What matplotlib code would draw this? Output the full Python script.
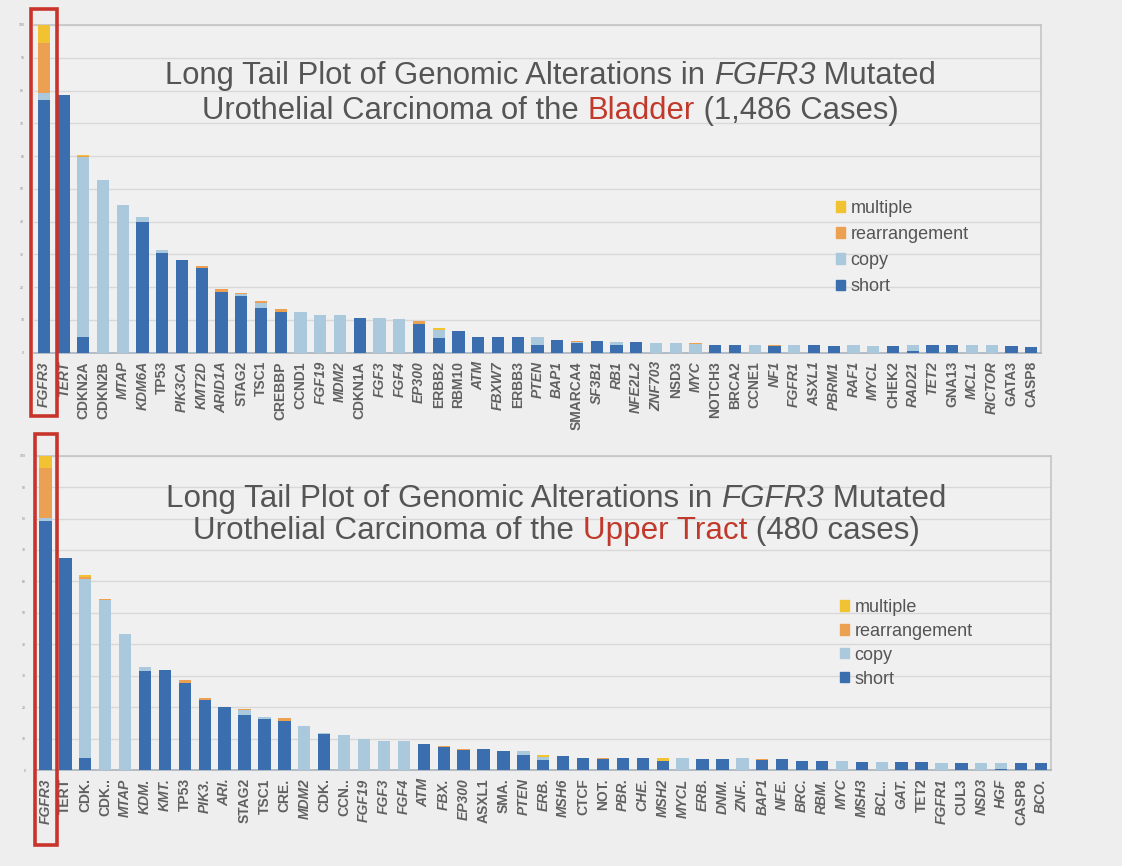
import numpy as np
import matplotlib
matplotlib.use("Agg")
import matplotlib.pyplot as plt
import matplotlib.transforms as mtransforms
from matplotlib.patches import Patch, Rectangle

plt.rcParams['font.family'] = ['Liberation Sans', 'DejaVu Sans']

# Dane - wykres gorny (pecherz moczowy)
genes_b = ["FGFR3", "TERT", "CDKN2A", "CDKN2B", "MTAP", "KDM6A", "TP53", "PIK3CA",
           "KMT2D", "ARID1A", "STAG2", "TSC1", "CREBBP", "CCND1", "FGF19", "MDM2",
           "CDKN1A", "FGF3", "FGF4", "EP300", "ERBB2", "RBM10", "ATM", "FBXW7",
           "ERBB3", "PTEN", "BAP1", "SMARCA4", "SF3B1", "RB1", "NFE2L2", "ZNF703",
           "NSD3", "MYC", "NOTCH3", "BRCA2", "CCNE1", "NF1", "FGFR1", "ASXL1",
           "PBRM1", "RAF1", "MYCL", "CHEK2", "RAD21", "TET2", "GNA13", "MCL1",
           "RICTOR", "GATA3", "CASP8"]
short_b = [77.0, 78.6, 4.8, 0, 0, 39.8, 30.3, 28.4, 25.7, 18.6, 17.3, 13.7, 12.5,
           0, 0, 0, 10.7, 0, 0, 8.9, 4.5, 6.6, 4.8, 4.9, 4.7, 2.4, 4.0, 3.0, 3.5,
           2.4, 3.2, 0, 0, 0, 2.2, 2.2, 0, 2.0, 0, 2.2, 2.1, 0, 0, 2.0, 0.4, 2.2,
           2.2, 0, 0, 2.0, 1.8]
copy_b = [2.2, 0, 54.9, 52.8, 45.0, 1.6, 1.0, 0, 0, 0, 0.6, 1.5, 0, 12.3, 11.4,
          11.4, 0, 10.5, 10.2, 0, 2.4, 0, 0, 0, 0, 2.5, 0, 0.3, 0, 1.0, 0, 3.1,
          3.0, 2.7, 0, 0, 2.2, 0, 2.4, 0, 0, 2.2, 2.1, 0, 1.8, 0, 0, 2.2, 2.2, 0, 0]
rearr_b = [15.2, 0, 0.3, 0, 0, 0, 0, 0, 0.7, 0.9, 0.4, 0.6, 0.8, 0, 0, 0, 0, 0,
           0, 0.9, 0, 0, 0, 0, 0, 0, 0, 0.3, 0, 0, 0, 0, 0, 0.3, 0, 0, 0, 0.2, 0,
           0, 0, 0, 0, 0, 0, 0, 0, 0, 0, 0, 0]
mult_b = [5.6, 0, 0.4, 0, 0, 0, 0, 0, 0, 0, 0, 0, 0, 0, 0, 0, 0, 0, 0, 0, 0.6,
          0, 0, 0, 0, 0, 0, 0, 0, 0, 0, 0, 0, 0, 0, 0, 0, 0, 0, 0, 0, 0, 0, 0,
          0, 0, 0, 0, 0, 0, 0]

# Dane - wykres dolny (gorne drogi moczowe)
genes_u = ["FGFR3", "TERT", "CDK.", "CDK..", "MTAP", "KDM.", "KMT.", "TP53",
           "PIK3.", "ARI.", "STAG2", "TSC1", "CRE.", "MDM2", "CDK.", "CCN..",
           "FGF19", "FGF3", "FGF4", "ATM", "FBX.", "EP300", "ASXL1", "SMA.",
           "PTEN", "ERB.", "MSH6", "CTCF", "NOT.", "PBR.", "CHE.", "MSH2", "MYCL",
           "ERB.", "DNM.", "ZNF..", "BAP1", "NFE.", "BRC.", "RBM.", "MYC", "MSH3",
           "BCL..", "GAT.", "TET2", "FGFR1", "CUL3", "NSD3", "HGF", "CASP8", "BCO."]
short_u = [79.2, 67.5, 3.9, 0, 0, 31.5, 31.7, 27.8, 22.3, 20.0, 17.6, 16.1, 15.7,
           0, 11.6, 0, 0, 0, 0, 8.3, 7.3, 6.5, 6.7, 6.0, 4.8, 3.2, 4.6, 3.9, 3.4,
           3.7, 3.7, 3.0, 0, 3.5, 3.5, 0, 3.2, 3.4, 2.9, 3.0, 0, 2.4, 0, 2.4, 2.4,
           0, 2.3, 0, 0.3, 2.2, 2.1]
copy_u = [0.9, 0, 56.8, 54.1, 43.3, 1.3, 0, 0, 0, 0, 1.4, 0.9, 0, 14.1, 0.2,
          11.0, 9.9, 9.2, 9.2, 0, 0, 0, 0, 0, 1.1, 0.9, 0, 0, 0, 0, 0, 0, 3.7, 0,
          0, 3.7, 0, 0, 0, 0, 2.9, 0, 2.5, 0, 0, 2.3, 0, 2.3, 2.0, 0, 0]
rearr_u = [15.9, 0, 0.6, 0.2, 0, 0, 0, 0.8, 0.6, 0, 0.4, 0, 0.9, 0, 0, 0, 0, 0,
           0, 0, 0.3, 0.3, 0, 0, 0, 0, 0, 0, 0.4, 0, 0, 0, 0, 0, 0, 0, 0.3, 0, 0,
           0, 0, 0, 0, 0, 0, 0, 0, 0, 0, 0, 0]
mult_u = [4.0, 0, 0.8, 0, 0, 0, 0, 0, 0, 0, 0, 0, 0, 0, 0, 0, 0, 0, 0, 0, 0, 0,
          0, 0, 0, 0.8, 0, 0, 0, 0, 0, 0.7, 0, 0, 0, 0, 0, 0, 0, 0, 0, 0, 0, 0,
          0, 0, 0, 0, 0, 0, 0]

# Etykiety pisane prosto (reszta kursywa)
upright_b = {"CDKN2A", "CDKN2B", "TP53", "STAG2", "TSC1", "CREBBP", "CCND1",
             "CDKN1A", "ERBB2", "RBM10", "ERBB3", "SMARCA4", "NSD3", "NOTCH3",
             "BRCA2", "CCNE1", "CHEK2", "GNA13", "GATA3", "CASP8"}
upright_u = {"TERT", "CDK.", "CDK..", "TP53", "STAG2", "TSC1", "CRE.", "CCN..",
             "ASXL1", "SMA.", "CTCF", "NOT.", "TET2", "CUL3", "CASP8"}

# Kolory
C_SHORT = '#3b6eae'
C_COPY = '#abc9dc'
C_REARR = '#eca152'
C_MULT = '#f1c232'
GREY = '#555555'
RED = '#c0392b'
BG = '#eeeeee'

W, H = 1122, 866


def px_rect(left, top, right, bottom):
    return [left/W, 1-bottom/H, (right-left)/W, (bottom-top)/H]


# Wykres slupkowy skumulowany
def stacked(ax, genes, short, copy, rearr, mult, upright):
    x = np.arange(len(genes))
    bottom = np.zeros(len(genes))
    for vals, col in [(short, C_SHORT), (copy, C_COPY), (rearr, C_REARR), (mult, C_MULT)]:
        ax.bar(x, vals, 0.62, bottom=bottom, color=col, zorder=3)
        bottom += np.array(vals)
    ax.set_xlim(-0.5, len(genes)-0.5)
    ax.set_ylim(0, 100)
    ax.set_facecolor('#f0f0f0')
    ax.set_yticks(np.arange(0, 101, 10))
    ax.set_yticklabels([str(v) for v in range(0, 101, 10)], fontsize=2.5, color='#888888')
    ax.tick_params(axis='y', length=0, pad=7)
    ax.grid(axis='y', color='#d8d8d8', lw=1.0, zorder=0)
    ax.set_xticks(x)
    ax.set_xticklabels(genes, rotation=90, fontsize=10, fontweight='bold', color='#606060')
    for lab, g in zip(ax.get_xticklabels(), genes):
        lab.set_style('normal' if g in upright else 'italic')
    ax.tick_params(axis='x', length=0, pad=6)
    ax.spines['left'].set_visible(False)
    for s in ['top', 'right']:
        ax.spines[s].set_color('#c4c4c4')
        ax.spines[s].set_linewidth(1.2)
    ax.spines['bottom'].set_color('#a9b4bf')
    ax.spines['bottom'].set_linewidth(1.2)


def legend(ax, left, top, spacing):
    handles = [Patch(color=C_MULT, label='multiple'),
               Patch(color=C_REARR, label='rearrangement'),
               Patch(color=C_COPY, label='copy'),
               Patch(color=C_SHORT, label='short')]
    ax.legend(handles=handles, loc='upper left', bbox_to_anchor=(left/W, 1-top/H),
              bbox_transform=fig.transFigure, frameon=False, fontsize=13,
              handlelength=0.5, handleheight=0.5, handletextpad=0.3,
              labelspacing=spacing, borderpad=0, borderaxespad=0, labelcolor=GREY)


def red_box(ax, x0, x1, y0, y1):
    tr = mtransforms.blended_transform_factory(ax.transData, ax.transAxes)
    ax.add_patch(Rectangle((x0, y0), x1-x0, y1-y0, transform=tr, fill=False,
                           edgecolor='#c8342c', lw=2.6, clip_on=False, zorder=5))


# Tytul w kilku kawalkach (kursywa, kolor)
def title_line(ax, pieces, cx, y, size):
    texts = []
    prev = None
    for s, col, st in pieces:
        if prev is None:
            t = fig.text(0, 1-y/H, s, color=col, style=st, fontsize=size,
                         ha='left', va='baseline')
        else:
            t = ax.annotate(s, xy=(1, 0), xycoords=prev, color=col, style=st,
                            fontsize=size, ha='left', va='bottom',
                            annotation_clip=False)
            t.set_clip_on(False)
        texts.append(t)
        prev = t
    return texts, cx


fig = plt.figure(figsize=(W/100, H/100), dpi=100, facecolor=BG)
ax1 = fig.add_axes(px_rect(34, 25, 1041, 352.7))
ax2 = fig.add_axes(px_rect(35.5, 455.7, 1051, 770))

stacked(ax1, genes_b, short_b, copy_b, rearr_b, mult_b, upright_b)
stacked(ax2, genes_u, short_u, copy_u, rearr_u, mult_u, upright_u)
legend(ax1, 836, 200, 0.5)
legend(ax2, 840, 599, 0.38)
red_box(ax1, -0.67, 0.67, -0.194, 1.05)
red_box(ax2, -0.55, 0.56, -0.24, 1.07)

lines = [
    (ax1, [("Long Tail Plot of Genomic Alterations in ", GREY, 'normal'), ("FGFR3", GREY, 'italic'),
           (" Mutated", GREY, 'normal')], 550.5, 84, 22.3),
    (ax1, [("Urothelial Carcinoma of the ", GREY, 'normal'), ("Bladder", RED, 'normal'),
           (" (1,486 Cases)", GREY, 'normal')], 550.5, 119, 22.3),
    (ax2, [("Long Tail Plot of Genomic Alterations in ", GREY, 'normal'), ("FGFR3", GREY, 'italic'),
           (" Mutated", GREY, 'normal')], 556.5, 507, 22.6),
    (ax2, [("Urothelial Carcinoma of the ", GREY, 'normal'), ("Upper Tract", RED, 'normal'),
           (" (480 cases)", GREY, 'normal')], 556.5, 539, 22.6),
]
made = [title_line(*l) for l in lines]

# Wysrodkowanie linii tytulu
fig.canvas.draw()
r = fig.canvas.get_renderer()
for texts, cx in made:
    x0 = texts[0].get_window_extent(r).x0
    x1 = texts[-1].get_window_extent(r).x1
    texts[0].set_x((cx - (x1-x0)/2)/W)

fig.savefig('out.png', dpi=100, facecolor=BG)
